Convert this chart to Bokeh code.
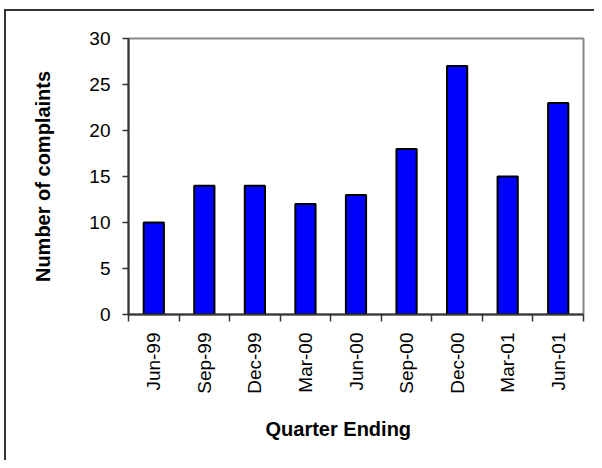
import math
from bokeh.plotting import figure
from bokeh.models import FixedTicker, Range1d, Title
from bokeh.embed import file_html
from bokeh.resources import INLINE

quarters = ["Jun-99", "Sep-99", "Dec-99", "Mar-00", "Jun-00", "Sep-00", "Dec-00", "Mar-01", "Jun-01"]
complaints = [10, 14, 14, 12, 13, 18, 27, 15, 23]
y_ticks = [0, 5, 10, 15, 20, 25, 30]

FONT = "Liberation Sans"
n = len(quarters)
xpos = [i + 0.5 for i in range(n)]

p = figure(width=594, height=460, output_backend="svg", toolbar_location=None,
           x_range=Range1d(0, n), y_range=Range1d(0, 30),
           min_border_left=128, min_border_right=11, min_border_top=38, min_border_bottom=146)
p.styles = {
    "background": "linear-gradient(#333,#333) 4px 9px / 2px 100% no-repeat, "
                  "linear-gradient(#333,#333) 4px 9px / 100% 2px no-repeat, white",
}
p.border_fill_color = None
p.background_fill_color = "white"

p.vbar(x=xpos, top=complaints, width=0.4, fill_color="#0000FF", line_color="#000000", line_width=2)

p.xgrid.visible = False
p.ygrid.visible = False
p.outline_line_color = "#888888"
p.outline_line_width = 2

xa = p.xaxis[0]
xa.ticker = FixedTicker(ticks=xpos, minor_ticks=list(range(n + 1)))
xa.major_label_overrides = {x: q for x, q in zip(xpos, quarters)}
xa.major_tick_out = 0
xa.major_tick_in = 0
xa.minor_tick_out = 7
xa.minor_tick_in = 0
xa.minor_tick_line_color = "#333333"
xa.minor_tick_line_width = 1.5
xa.axis_line_color = "#333333"
xa.axis_line_width = 2
xa.major_label_orientation = math.pi / 2
xa.major_label_standoff = 11
xa.major_label_text_font = FONT
xa.major_label_text_font_size = "19px"
xa.major_label_text_color = "black"

ya = p.yaxis[0]
ya.ticker = FixedTicker(ticks=y_ticks)
ya.minor_tick_line_color = None
ya.major_tick_out = 6
ya.major_tick_in = 0
ya.major_tick_line_color = "#333333"
ya.major_tick_line_width = 1.5
ya.axis_line_color = "#333333"
ya.axis_line_width = 2
ya.major_label_standoff = 12
ya.major_label_text_font = FONT
ya.major_label_text_font_size = "19px"
ya.major_label_text_color = "black"
ya.axis_label = "Number of complaints"
ya.axis_label_text_font = FONT
ya.axis_label_text_font_size = "20px"
ya.axis_label_text_font_style = "bold"
ya.axis_label_text_color = "black"
ya.axis_label_standoff = 32

xtitle = Title(text="Quarter Ending", align="left", offset=137, standoff=39,
               text_font=FONT, text_font_size="20px", text_font_style="bold",
               text_color="black")
p.add_layout(xtitle, "below")

open("out.html", "w").write(file_html(p, INLINE))
